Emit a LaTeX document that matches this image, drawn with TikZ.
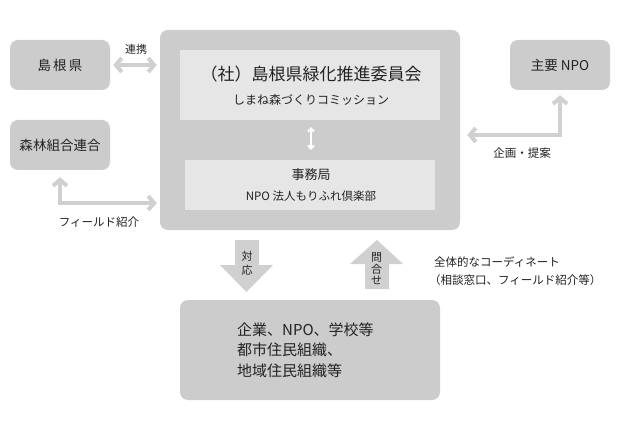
\documentclass[tikz,border=0pt]{standalone}
\usepackage{fontspec}
\setmainfont{Noto Sans CJK JP}
\usetikzlibrary{arrows.meta}
\definecolor{boxgray}{HTML}{CCCCCC}
\definecolor{innergray}{HTML}{E6E6E6}
\definecolor{arrgray}{HTML}{D0D0D0}
\definecolor{txt}{HTML}{222222}
\tikzset{
  outerbox/.style={fill=boxgray, rounded corners=8pt, inner sep=0pt, text=txt, align=center},
  innerbox/.style={fill=innergray, inner sep=0pt, text=txt, align=center},
  thinarrow/.style={draw=arrgray, line width=4pt, {Straight Barb[length=6pt,width=14pt]}-{Straight Barb[length=6pt,width=14pt]}},
  blockarrow/.style={fill=arrgray, draw=none},
  lbl/.style={text=txt, font=\fontsize{11}{13}\selectfont, inner sep=0pt},
}
\begin{document}
\begin{tikzpicture}[x=1pt,y=-1pt]
\useasboundingbox (0,0) rectangle (620,430);
\fill[white] (0,0) rectangle (620,430);
% boxes
\node[outerbox, minimum width=100pt, minimum height=50pt, font=\fontsize{13.5}{16}\selectfont] (shimane) at (60,65) {島\,根\,県};
\node[outerbox, minimum width=100pt, minimum height=50pt, font=\fontsize{13.5}{16}\selectfont] (shinrin) at (60,145) {森林組合連合};
\node[outerbox, minimum width=100pt, minimum height=50pt, font=\fontsize{13.5}{16}\selectfont] (npo) at (560,65) {主要 NPO};
\node[outerbox, minimum width=300pt, minimum height=200pt] (main) at (310,130) {};
\node[innerbox, minimum width=260pt, minimum height=70pt] (iroot) at (310,85) {};
\node[text=txt, inner sep=0pt, font=\fontsize{17}{20}\selectfont] (title) at (311,74) {（社）島根県緑化推進委員会};
\node[text=txt, inner sep=0pt, font=\fontsize{12}{14}\selectfont] (sub) at (311,100) {しまね森づくりコミッション};
\node[innerbox, minimum width=250pt, minimum height=50pt] (ibot) at (310,185) {};
\node[text=txt, inner sep=0pt, font=\fontsize{13}{15}\selectfont] (jim) at (311,175) {事務局};
\node[text=txt, inner sep=0pt, font=\fontsize{11.5}{14}\selectfont] (npoh) at (311,196) {NPO 法人もりふれ倶楽部};
\node[outerbox, minimum width=260pt, minimum height=100pt] (bottom) at (310,350) {};
\node[text=txt, inner sep=0pt, align=left, anchor=west, font=\fontsize{15}{20.5}\selectfont] (btext) at (237,350) {企業、NPO、学校等\\都市住民組織、\\地域住民組織等};
% labels
\node[lbl] (l1) at (136,49) {連携};
\node[lbl, font=\fontsize{11.5}{13}\selectfont] (l2) at (99,222) {フィールド紹介};
\node[lbl, font=\fontsize{11.5}{13}\selectfont] (l3) at (522,153) {企画・提案};
\node[lbl, anchor=west, align=left, font=\fontsize{11.5}{18}\selectfont] (l4) at (434,271) {全体的なコーディネート\\\hspace*{-0.45em}（相談窓口、フィールド紹介等）};
% connectors
\draw[thinarrow] ([xshift=3pt]shimane.east) -- ([xshift=-3pt]main.west |- shimane.east);
\coordinate (fk) at (60,203);
\draw[thinarrow] ([yshift=-7pt]shinrin.south) |- ([xshift=-3pt]main.west |- fk);
\coordinate (kc) at (560,135);
\draw[thinarrow] ([xshift=7pt]main.east |- kc) -| ([yshift=-5pt]npo.south);
\draw[draw=white, line width=2pt, {Straight Barb[length=3pt,width=6pt]}-{Straight Barb[length=3pt,width=6pt]}] ([yshift=-7pt,xshift=1pt]iroot.south) -- ([yshift=10pt,xshift=1pt]ibot.north);
% block arrows
\fill[blockarrow] (235,240) -- (259,240) -- (259,265) -- (273,265) -- (246.5,292) -- (220,265) -- (235,265) -- cycle;
\fill[blockarrow] (365,289) -- (389,289) -- (389,264) -- (403,264) -- (377,240) -- (350,264) -- (365,264) -- cycle;
\node[lbl, align=center, font=\fontsize{11}{14}\selectfont] (taio) at (247,263) {対\\応};
\node[lbl, align=center, font=\fontsize{11}{11.5}\selectfont] (toi) at (376.5,269) {問\\合\\せ};
\end{tikzpicture}
\end{document}
